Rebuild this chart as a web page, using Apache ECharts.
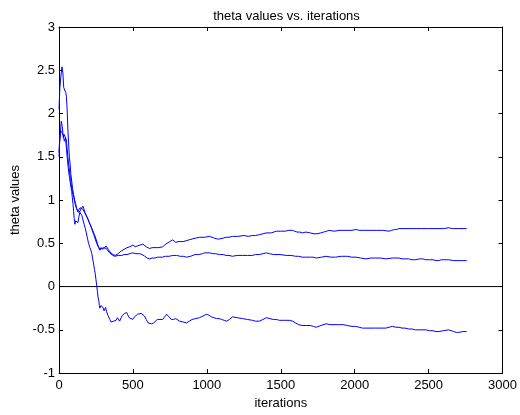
<!DOCTYPE html>
<html>
<head>
<meta charset="utf-8">
<script src="https://cdn.jsdelivr.net/npm/echarts@6/dist/echarts.min.js"></script>
<style>html,body{margin:0;padding:0;background:#fff;}#c{width:520px;height:415px;}</style>
</head>
<body>
<div id="c"></div>
<script>
const titleText = 'theta values vs. iterations';
const xName = 'iterations';
const yName = 'theta values';
const xTicks = [0, 500, 1000, 1500, 2000, 2500, 3000];
const yTicks = [-1, -0.5, 0, 0.5, 1, 1.5, 2, 2.5, 3];

const thetaA = [[0,2.05],[6,2.3],[12,2.42],[20,2.54],[26,2.47],[32,2.3],[36,2.28],[42,2.31],[46,2.24],[50,2.2],[55,2.05],[60,1.82],[65,1.66],[70,1.5],[75,1.42],[80,1.3],[86,1.22],[92,1.13],[100,1.05],[106,1.0],[112,0.96],[120,0.9],[128,0.87],[135,0.88],[142,0.91],[150,0.93],[158,0.9],[165,0.9],[172,0.86],[180,0.85],[190,0.8],[200,0.76],[210,0.72],[220,0.68],[230,0.64],[240,0.6],[250,0.55],[260,0.5],[268,0.45],[276,0.42],[283,0.45],[290,0.47],[298,0.43],[310,0.44],[318,0.47],[324,0.48],[334,0.43],[345,0.40],[355,0.39],[365,0.37],[372,0.38],[380,0.36],[390,0.37],[400,0.38],[410,0.40],[420,0.41],[430,0.42],[440,0.43],[450,0.42],[460,0.45],[470,0.44],[479,0.46],[490,0.47],[500,0.48],[515,0.46],[530,0.47],[548,0.48],[567,0.49],[578,0.48],[590,0.46],[600,0.45],[613,0.44],[630,0.45],[650,0.45],[675,0.45],[701,0.46],[715,0.48],[730,0.50],[750,0.52],[769,0.54],[780,0.52],[790,0.51],[805,0.52],[816,0.52],[840,0.52],[860,0.53],[880,0.54],[900,0.55],[925,0.56],[951,0.57],[985,0.57],[1018,0.58],[1035,0.57],[1050,0.56],[1070,0.55],[1085,0.55],[1110,0.56],[1130,0.57],[1150,0.57],[1173,0.58],[1210,0.58],[1250,0.59],[1280,0.58],[1308,0.59],[1330,0.59],[1355,0.60],[1380,0.61],[1400,0.62],[1435,0.62],[1470,0.64],[1500,0.64],[1530,0.64],[1555,0.65],[1578,0.65],[1595,0.64],[1610,0.63],[1630,0.63],[1645,0.62],[1670,0.63],[1700,0.62],[1725,0.61],[1746,0.61],[1770,0.62],[1790,0.63],[1810,0.64],[1827,0.65],[1860,0.64],[1900,0.65],[1940,0.65],[1982,0.65],[2010,0.66],[2030,0.65],[2055,0.65],[2076,0.65],[2110,0.65],[2150,0.65],[2190,0.65],[2231,0.64],[2250,0.65],[2270,0.66],[2285,0.66],[2299,0.67],[2340,0.67],[2387,0.67],[2420,0.67],[2450,0.67],[2500,0.67],[2550,0.67],[2600,0.67],[2636,0.68],[2660,0.67],[2700,0.67],[2757,0.67]];

const thetaB = [[0,1.55],[4,1.68],[8,1.75],[15,1.91],[19,1.88],[22,1.85],[26,1.78],[30,1.72],[34,1.76],[38,1.78],[45,1.76],[49,1.7],[52,1.65],[56,1.58],[60,1.5],[64,1.44],[68,1.38],[73,1.3],[78,1.25],[83,1.18],[88,1.12],[94,1.07],[100,1.03],[105,0.99],[110,0.95],[115,0.92],[121,0.89],[128,0.86],[135,0.85],[142,0.87],[150,0.9],[156,0.92],[162,0.93],[168,0.9],[175,0.86],[185,0.82],[196,0.78],[205,0.74],[215,0.7],[225,0.65],[235,0.6],[245,0.55],[255,0.5],[262,0.47],[270,0.45],[280,0.43],[290,0.44],[300,0.45],[310,0.46],[320,0.44],[330,0.42],[342,0.39],[352,0.37],[364,0.36],[378,0.35],[391,0.34],[400,0.36],[411,0.35],[425,0.36],[440,0.37],[460,0.37],[479,0.38],[490,0.38],[499,0.39],[520,0.38],[546,0.38],[562,0.37],[580,0.35],[596,0.33],[613,0.32],[630,0.33],[650,0.33],[665,0.34],[681,0.34],[700,0.34],[720,0.35],[745,0.35],[769,0.36],[795,0.36],[820,0.35],[840,0.35],[863,0.34],[890,0.35],[920,0.37],[945,0.37],[970,0.38],[985,0.39],[997,0.40],[1020,0.39],[1040,0.38],[1060,0.38],[1085,0.37],[1110,0.37],[1130,0.36],[1150,0.36],[1173,0.35],[1205,0.36],[1240,0.36],[1275,0.36],[1308,0.36],[1330,0.37],[1355,0.37],[1380,0.38],[1402,0.39],[1425,0.38],[1450,0.37],[1495,0.37],[1537,0.36],[1570,0.36],[1600,0.35],[1620,0.35],[1645,0.34],[1670,0.34],[1700,0.34],[1720,0.34],[1740,0.33],[1775,0.34],[1807,0.35],[1840,0.34],[1870,0.34],[1910,0.35],[1950,0.35],[1980,0.34],[2009,0.34],[2040,0.33],[2076,0.32],[2110,0.33],[2140,0.33],[2175,0.33],[2211,0.32],[2255,0.33],[2299,0.33],[2320,0.32],[2340,0.32],[2365,0.32],[2387,0.31],[2410,0.31],[2440,0.32],[2460,0.32],[2481,0.31],[2505,0.31],[2530,0.31],[2550,0.30],[2569,0.30],[2585,0.31],[2600,0.31],[2620,0.31],[2636,0.31],[2670,0.30],[2700,0.30],[2730,0.30],[2757,0.30]];

const thetaC = [[0,1.5],[3,1.62],[6,1.7],[9,1.76],[12,1.8],[16,1.79],[20,1.78],[24,1.77],[28,1.76],[32,1.72],[36,1.68],[40,1.7],[44,1.72],[47,1.66],[50,1.6],[54,1.52],[58,1.45],[62,1.38],[66,1.32],[71,1.26],[76,1.2],[81,1.15],[86,1.1],[90,1.03],[95,0.95],[99,0.87],[102,0.8],[105,0.75],[108,0.72],[112,0.76],[115,0.78],[120,0.76],[128,0.74],[134,0.8],[141,0.86],[148,0.84],[155,0.82],[162,0.77],[170,0.72],[178,0.67],[185,0.62],[192,0.56],[200,0.5],[209,0.45],[216,0.42],[222,0.38],[228,0.32],[235,0.25],[240,0.2],[245,0.15],[250,0.08],[256,0.0],[260,-0.06],[264,-0.12],[270,-0.17],[273,-0.22],[276,-0.25],[283,-0.22],[290,-0.2],[297,-0.24],[305,-0.28],[310,-0.26],[315,-0.24],[322,-0.29],[330,-0.33],[337,-0.35],[344,-0.38],[352,-0.41],[360,-0.42],[369,-0.40],[378,-0.42],[386,-0.39],[395,-0.36],[402,-0.38],[410,-0.40],[420,-0.36],[430,-0.33],[444,-0.31],[458,-0.30],[466,-0.33],[475,-0.36],[487,-0.37],[499,-0.38],[510,-0.35],[520,-0.33],[532,-0.32],[545,-0.31],[556,-0.31],[567,-0.30],[578,-0.34],[590,-0.38],[602,-0.42],[613,-0.44],[626,-0.43],[640,-0.42],[652,-0.40],[665,-0.38],[683,-0.38],[701,-0.38],[715,-0.35],[728,-0.32],[744,-0.35],[760,-0.38],[775,-0.38],[790,-0.37],[803,-0.39],[816,-0.40],[840,-0.41],[863,-0.42],[882,-0.40],[900,-0.38],[925,-0.37],[950,-0.36],[974,-0.34],[997,-0.32],[1014,-0.33],[1030,-0.35],[1048,-0.36],[1065,-0.37],[1082,-0.37],[1100,-0.38],[1117,-0.39],[1133,-0.40],[1153,-0.38],[1173,-0.35],[1205,-0.36],[1240,-0.37],[1275,-0.38],[1308,-0.39],[1330,-0.40],[1355,-0.40],[1380,-0.38],[1402,-0.36],[1425,-0.37],[1450,-0.38],[1470,-0.38],[1490,-0.39],[1525,-0.39],[1557,-0.39],[1580,-0.40],[1600,-0.42],[1622,-0.44],[1645,-0.45],[1672,-0.45],[1700,-0.45],[1720,-0.46],[1740,-0.47],[1772,-0.45],[1807,-0.43],[1834,-0.44],[1860,-0.44],[1890,-0.44],[1920,-0.44],[1950,-0.45],[1982,-0.46],[2005,-0.46],[2030,-0.47],[2052,-0.48],[2076,-0.48],[2110,-0.48],[2140,-0.48],[2175,-0.48],[2211,-0.48],[2232,-0.47],[2255,-0.46],[2278,-0.47],[2299,-0.47],[2320,-0.48],[2340,-0.48],[2365,-0.49],[2387,-0.49],[2410,-0.50],[2430,-0.50],[2455,-0.50],[2481,-0.50],[2505,-0.51],[2530,-0.51],[2550,-0.52],[2569,-0.52],[2600,-0.51],[2636,-0.50],[2652,-0.51],[2670,-0.52],[2688,-0.53],[2704,-0.53],[2730,-0.52],[2757,-0.52]];

const zeroLine = [[xTicks[0], 0], [xTicks[xTicks.length - 1], 0]];

const FONT = '"Liberation Sans", Arial, sans-serif';
const xMin = xTicks[0], xMax = xTicks[xTicks.length - 1];
const yMin = yTicks[0], yMax = yTicks[yTicks.length - 1];

function axisBase(extra) {
  return Object.assign({
    axisLine: { show: true, onZero: false, lineStyle: { color: '#000', width: 1 } },
    axisTick: { show: true, inside: true, length: 4, lineStyle: { color: '#000', width: 1 } },
    splitLine: { show: false }
  }, extra);
}

const plain = v => String(v);

const chart = echarts.init(document.getElementById('c'), null, { renderer: 'canvas' });
chart.setOption({
  animation: false,
  backgroundColor: '#fff',
  title: {
    text: titleText, left: 281.5, textAlign: 'center', top: 5,
    textStyle: { fontFamily: FONT, fontSize: 13, fontWeight: 'normal', color: '#000' }
  },
  grid: { left: 59, right: 16, top: 27, bottom: 37, containLabel: false },
  xAxis: [
    axisBase({
      type: 'value', position: 'bottom', min: xMin, max: xMax, interval: 500,
      name: xName, nameLocation: 'middle', nameGap: 23,
      nameTextStyle: { fontFamily: FONT, fontSize: 13, color: '#000' },
      axisLabel: { fontFamily: FONT, fontSize: 13, color: '#000', margin: 6, formatter: plain }
    }),
    axisBase({
      type: 'value', position: 'top', min: xMin, max: xMax, interval: 500,
      axisLabel: { show: false }
    })
  ],
  yAxis: [
    axisBase({
      type: 'value', position: 'left', min: yMin, max: yMax, interval: 0.5,
      name: yName, nameLocation: 'middle', nameGap: 36, nameRotate: 90,
      nameTextStyle: { fontFamily: FONT, fontSize: 13, color: '#000' },
      axisLabel: { fontFamily: FONT, fontSize: 13, color: '#000', margin: 4, formatter: plain }
    }),
    axisBase({
      type: 'value', position: 'right', min: yMin, max: yMax, interval: 0.5,
      axisLabel: { show: false }
    })
  ],
  series: [
    { type: 'line', data: zeroLine, showSymbol: false, symbol: 'none',
      lineStyle: { color: '#000', width: 1 }, z: 1, silent: true },
    { type: 'line', data: thetaA, showSymbol: false, symbol: 'none',
      lineStyle: { color: '#0000ff', width: 1 }, z: 2 },
    { type: 'line', data: thetaB, showSymbol: false, symbol: 'none',
      lineStyle: { color: '#0000ff', width: 1 }, z: 2 },
    { type: 'line', data: thetaC, showSymbol: false, symbol: 'none',
      lineStyle: { color: '#0000ff', width: 1 }, z: 2 }
  ]
});
</script>
</body>
</html>
